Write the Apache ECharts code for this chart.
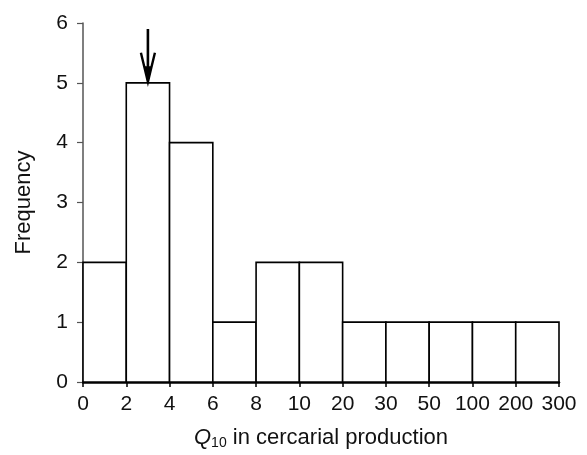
<!DOCTYPE html>
<html>
<head>
<meta charset="utf-8">
<script src="https://cdn.jsdelivr.net/npm/echarts@6/dist/echarts.min.js"></script>
<style>html,body{margin:0;padding:0;background:#fff;}#c{width:587px;height:455px;}</style>
</head>
<body>
<div id="c"></div>
<script>
// Bin edge tick labels (11 equal-width bins drawn on an index scale)
const edgeLabels = ['0','2','4','6','8','10','20','30','50','100','200','300'];
// Frequency in each bin
const frequencies = [2, 5, 4, 1, 2, 2, 1, 1, 1, 1, 1];
// Arrow marking the bin 2–4 (x at bin centre, from y top to y tip)
const arrowPoint = [[1.5, 5.9, 5.0]];
const yTicks = [0, 1, 2, 3, 4, 5, 6];

const FONT = "'Liberation Sans', Arial, Helvetica, sans-serif";
const chart = echarts.init(document.getElementById('c'), null, {renderer: 'canvas'});

const barData = frequencies.map((f, i) => [i, f]);

chart.setOption({
  animation: false,
  backgroundColor: '#fff',
  grid: {left: 83, right: 28, top: 23, bottom: 67, containLabel: false},
  xAxis: {
    type: 'value', min: 0, max: edgeLabels.length - 1, interval: 1,
    splitLine: {show: false},
    axisLine: {show: true, lineStyle: {color: '#000', width: 2.5}},
    axisTick: {show: true, length: 5, lineStyle: {color: '#000', width: 1.5}},
    axisLabel: {
      margin: 12, fontSize: 21, color: '#111', fontFamily: FONT,
      formatter: v => edgeLabels[Math.round(v)]
    },
    name: '{q|Q}{sub|10}{t| in cercarial production}',
    nameLocation: 'middle', nameGap: 44,
    nameTextStyle: {
      fontFamily: FONT, color: '#111', fontSize: 22,
      rich: {
        q: {fontSize: 22, fontStyle: 'italic', fontFamily: FONT, color: '#111', lineHeight: 24},
        sub: {fontSize: 14, fontFamily: FONT, color: '#111', verticalAlign: 'bottom', lineHeight: 13},
        t: {fontSize: 22, fontFamily: FONT, color: '#111', lineHeight: 24}
      }
    }
  },
  yAxis: {
    type: 'value', min: yTicks[0], max: yTicks[yTicks.length - 1], interval: 1,
    splitLine: {show: false},
    axisLine: {show: true, lineStyle: {color: '#555', width: 1.5}},
    axisTick: {show: true, length: 6, lineStyle: {color: '#555', width: 1.2}},
    axisLabel: {margin: 15, fontSize: 21, color: '#111', fontFamily: FONT},
    name: 'Frequency', nameLocation: 'middle', nameGap: 48,
    nameTextStyle: {fontSize: 22, color: '#111', fontFamily: FONT}
  },
  series: [
    {
      type: 'custom',
      data: barData,
      encode: {x: 0, y: 1},
      z: 3,
      renderItem: function (params, api) {
        const i = api.value(0), f = api.value(1);
        const p0 = api.coord([i, 0]);
        const p1 = api.coord([i + 1, f]);
        return {
          type: 'rect',
          shape: {x: p0[0], y: p1[1], width: p1[0] - p0[0], height: p0[1] - p1[1]},
          style: {fill: '#fff', stroke: '#000', lineWidth: 1.6}
        };
      }
    },
    {
      type: 'custom',
      data: arrowPoint,
      encode: {x: 0, y: [1, 2]},
      z: 4,
      renderItem: function (params, api) {
        const x = api.value(0);
        const top = api.coord([x, api.value(1)]);
        const tip = api.coord([x, api.value(2)]);
        const cx = top[0];
        return {
          type: 'group',
          children: [
            {type: 'line', shape: {x1: cx, y1: top[1], x2: cx, y2: tip[1] - 4},
             style: {stroke: '#000', lineWidth: 2.6}},
            {type: 'polyline', shape: {points: [[cx - 7, tip[1] - 30], [cx, tip[1] - 1], [cx + 7, tip[1] - 30]]},
             style: {stroke: '#000', lineWidth: 2.4, fill: null}},
            {type: 'polygon', shape: {points: [[cx - 3, tip[1] - 16], [cx, tip[1]], [cx + 3, tip[1] - 16]]},
             style: {fill: '#000', stroke: '#000', lineWidth: 1}}
          ]
        };
      }
    }
  ]
});
</script>
</body>
</html>
